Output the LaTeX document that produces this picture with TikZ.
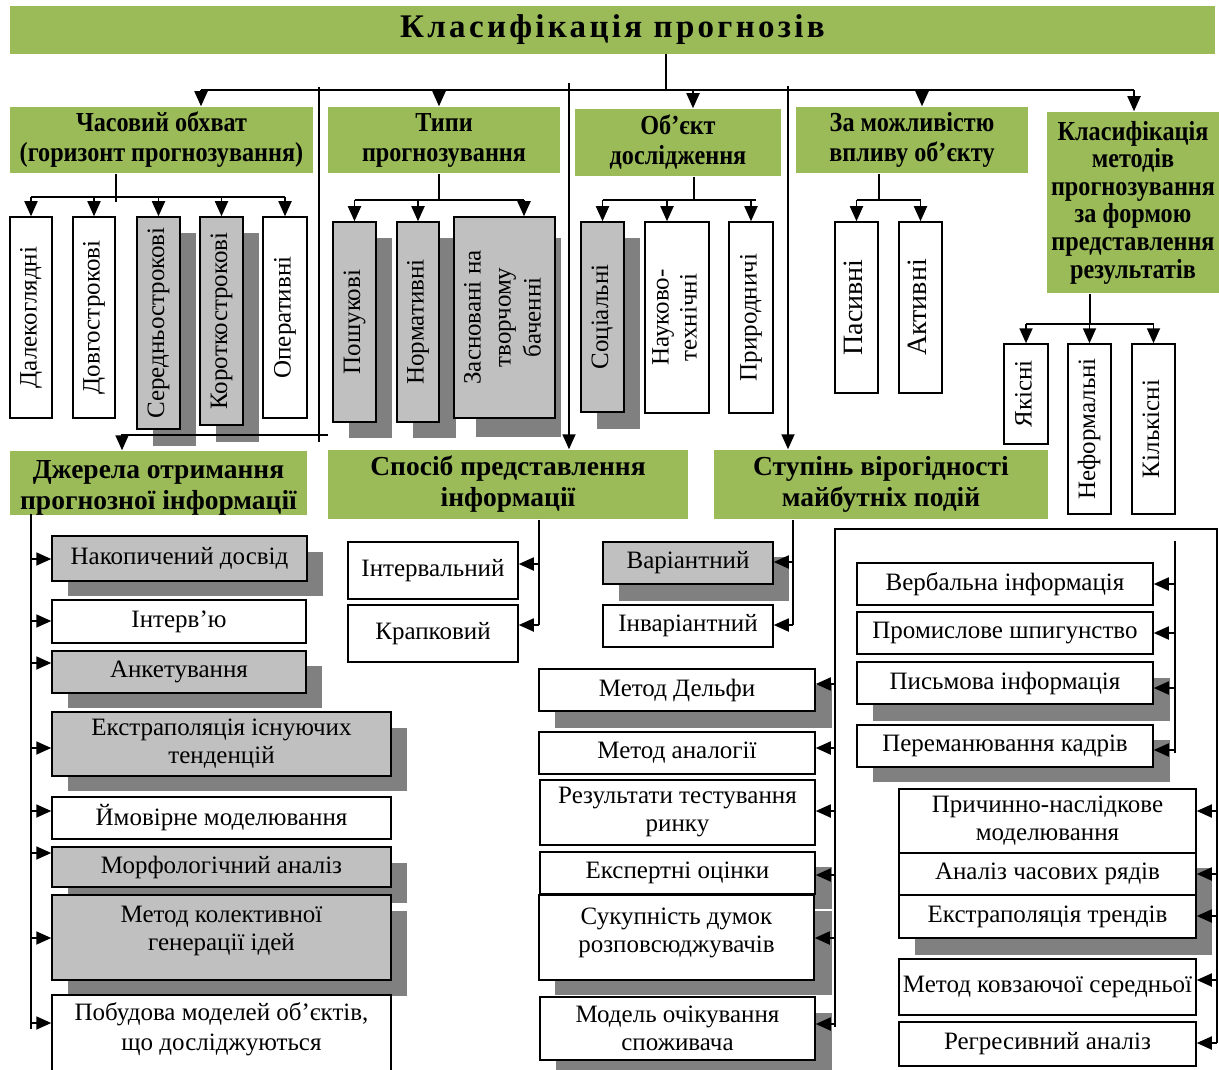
\documentclass[tikz,border=0pt]{standalone}
\usepackage{fontspec}
\setmainfont{Liberation Serif}
\newfontfamily\condb[FakeStretch=0.88]{Liberation Serif}
\newfontfamily\titlef[LetterSpace=10]{Liberation Serif}
\usetikzlibrary{arrows.meta}
\definecolor{grn}{HTML}{9BBB59}
\definecolor{gbox}{HTML}{C0C0C0}
\definecolor{shadowc}{HTML}{808080}
\tikzset{
 bxs/.style={draw, line width=1.5pt, fill=white, align=center, inner sep=0pt, font=\fontsize{25}{28}\selectfont},
 gry/.style={fill=gbox},
 hd/.style={fill=grn, draw=none, font=\condb\bfseries\fontsize{27.5}{30}\selectfont},
 hdl/.style={fill=grn, draw=none, font=\bfseries\fontsize{27.5}{31}\selectfont},
 txt/.style={align=center, inner sep=0pt, font=\fontsize{25}{28}\selectfont},
 ln/.style={line width=1.8pt},
 arr/.style={line width=1.8pt, -{Triangle[length=15pt,width=13pt]}},
}
\newcommand\bx[7][]{\node[bxs,#1,minimum width={(#5-#3)*1pt},minimum height={(#6-#4)*1pt}] (#2) at ({(#3+#5)/2},{(#4+#6)/2}) {#7};}
\newcommand\shd[4]{\fill[shadowc] (#1,#2) rectangle (#3,#4);}
\newcommand\rt[1]{\rotatebox{90}{\begin{tabular}{@{}c@{}}#1\end{tabular}}}
\begin{document}
\begin{tikzpicture}[x=1pt,y=-1pt]
\useasboundingbox (0,0) rectangle (1219,1070);
\clip (0,0) rectangle (1219,1070);
% title
\node[fill=grn, inner sep=0pt, minimum width=1205pt, minimum height=48pt] (title) at (612.5,30) {\titlef\bfseries\fontsize{33}{38}\selectfont Класифікація прогнозів};
% level 2 headings
\bx[hd]{chas}{10}{107}{313}{173}{Часовий обхват\\(горизонт прогнозування)}
\bx[hd]{typy}{328}{107}{560}{173}{Типи\\прогнозування}
\bx[hd]{obj}{575}{109}{781}{176}{Об’єкт\\дослідження}
\bx[hd]{mozh}{796}{107}{1028}{173}{За можливістю\\впливу об’єкту}
\bx[hd,font=\condb\bfseries\fontsize{27.5}{27.6}\selectfont]{klas}{1047}{112}{1219}{293}{Класифікація\\методів\\прогнозування\\за формою\\представлення\\результатів}
% shadows
\shd{153}{233}{196}{446}
\shd{216}{233}{259}{442}
\shd{349}{238}{392}{438}
\shd{413}{238}{456}{438}
\shd{476}{238}{561}{437}
\shd{597}{238}{640}{429}
\shd{68}{552}{323}{596}
\shd{68}{666}{322}{708}
\shd{68}{728}{407}{791}
\shd{68}{863}{407}{903}
\shd{68}{911}{407}{996}
\shd{619}{557}{789}{601}
\shd{555}{685}{832}{728}
\shd{555}{867}{832}{909}
\shd{555}{911}{832}{995}
\shd{556}{1013}{832}{1080}
\shd{873}{678}{1170}{721}
\shd{873}{740}{1170}{782}
\shd{915}{868}{1212}{955}
% vertical boxes
\bx{d1}{10}{217}{52}{418}{\rt{Далекоглядні}}
\bx{d2}{73}{217}{115}{418}{\rt{Довгострокові}}
\bx[gry]{d3}{137}{217}{180}{429}{\rt{Середньострокові}}
\bx[gry]{d4}{200}{217}{243}{425}{\rt{Короткострокові}}
\bx{d5}{263}{217}{307}{418}{\rt{Оперативні}}
\bx[gry]{t1}{333}{222}{376}{422}{\rt{Пошукові}}
\bx[gry]{t2}{397}{222}{439}{422}{\rt{Нормативні}}
\bx[gry,font=\fontsize{25}{30}\selectfont]{t3}{454}{217}{555}{418}{\rt{Засновані на\\творчому\\баченні}}
\bx[gry]{o1}{581}{222}{624}{412}{\rt{Соціальні}}
\bx{o2}{645}{222}{709}{413}{\rt{Науково-\\технічні}}
\bx{o3}{729}{222}{773}{413}{\rt{Природничі}}
\bx[font=\fontsize{28}{30}\selectfont]{m1}{835}{222}{878}{393}{\rt{Пасивні}}
\bx[font=\fontsize{28}{30}\selectfont]{m2}{899}{222}{942}{393}{\rt{Активні}}
\bx{k1}{1004}{344}{1048}{444}{\rt{Якісні}}
\bx{k2}{1068}{344}{1111}{514}{\rt{Неформальні}}
\bx{k3}{1132}{344}{1175}{514}{\rt{Кількісні}}
% level 3 headings
\begin{scope}
\clip (10,451) rectangle (307,514);
\bx[hdl]{dzh}{10}{451}{307}{524}{Джерела отримання\\прогнозної інформації}
\end{scope}
\bx[hdl]{sposib}{328}{450}{688}{519}{Спосіб представлення\\інформації}
\bx[hdl]{stup}{714}{450}{1048}{519}{Ступінь вірогідності\\майбутніх подій}
% left column
\bx[gry]{j1}{52}{536}{307}{581}{Накопичений досвід}
\bx{j2}{52}{600}{306}{643}{Інтерв’ю}
\bx[gry]{j3}{52}{651}{306}{693}{Анкетування}
\bx[gry]{j4}{52}{712}{391}{776}{Екстраполяція існуючих\\тенденцій}
\bx{j5}{52}{797}{391}{839}{Ймовірне моделювання}
\bx[gry]{j6}{52}{847}{391}{887}{Морфологічний аналіз}
\bx[gry]{j7}{52}{895}{391}{980}{}
\node[txt,anchor=north] (j7t) at ([yshift=-12pt]j7.north) {Метод колективної\\генерації ідей};
\bx{j8}{52}{995}{391}{1090}{}
\node[txt,anchor=north] (j8t) at ([yshift=-8pt]j8.north) {Побудова моделей об’єктів,\\[2pt]що досліджуються};
% middle
\bx{s1}{348}{542}{518}{599}{Інтервальний}
\bx{s2}{348}{605}{518}{662}{Крапковий}
\bx[gry]{v1}{603}{542}{773}{584}{Варіантний}
\bx{v2}{603}{605}{773}{647}{Інваріантний}
\bx{c1}{539}{669}{815}{711}{Метод Дельфи}
\bx{c2}{539}{732}{815}{774}{Метод аналогії}
\bx{c3}{540}{780}{815}{845}{Результати тестування\\ринку}
\bx{c4}{540}{852}{815}{894}{Експертні оцінки}
\bx{c5}{539}{895}{814}{980}{}
\node[txt,anchor=north] (c5t) at ([yshift=-13pt]c5.north) {Сукупність думок\\розповсюджувачів};
\bx{c6}{540}{997}{815}{1060}{Модель очікування\\споживача}
% right
\bx{r1}{857}{563}{1153}{605}{Вербальна інформація}
\bx{r2}{857}{612}{1153}{654}{Промислове шпигунство}
\bx{r3}{857}{662}{1153}{704}{Письмова інформація}
\bx{r4}{857}{725}{1153}{767}{Переманювання кадрів}
\bx{q1}{899}{789}{1196}{853}{Причинно-наслідкове\\моделювання}
\bx{q2}{899}{853}{1196}{895}{Аналіз часових рядів}
\bx{q3}{899}{895}{1196}{938}{Екстраполяція трендів}
\bx{q4}{899}{959}{1196}{1015}{Метод ковзаючої середньої}
\bx{q5}{899}{1022}{1196}{1066}{Регресивний аналіз}
% ---- connectors ----
\coordinate (bL) at (201,90); \coordinate (bR) at (1134,90); \coordinate (bM) at (666,90);
\coordinate (b2) at (439,90); \coordinate (b3) at (693,90); \coordinate (b4) at (922,90);
\draw[ln] (bM |- title.south) -- (bM);
\draw[ln] (bL) -- (bR);
\draw[arr] (bL) -- (bL |- chas.north);
\draw[arr] (b2) -- (b2 |- typy.north);
\draw[arr] (b3) -- (b3 |- obj.north);
\draw[arr] (b4) -- (b4 |- mozh.north);
\draw[arr] (bR) -- (bR |- klas.north);
% long verticals
\coordinate (vA) at (319,87); \coordinate (vB) at (319,442);
\draw[ln] (vA) -- (vB);
\coordinate (dA) at (328,435); \coordinate (dB) at (122,435);
\draw[arr] (dA) -- (dB) -- (dB |- dzh.north);
\coordinate (sA) at (569,83);
\draw[arr] (sA) -- (sA |- sposib.north);
\coordinate (uA) at (788,86);
\draw[arr] (uA) -- (uA |- stup.north);
% chasovyi
\coordinate (c0) at (116,202); \coordinate (cb) at (0,197);
\draw[ln] (c0 |- chas.south) -- (c0);
\draw[ln] (d1.north |- cb) -- (d5.north |- cb);
\foreach \n in {d1,d2,d3,d4,d5} \draw[arr] (\n.north |- cb) -- (\n.north);
% typy
\coordinate (p0) at (439,200); \coordinate (p3) at (524,200);
\draw[ln] (p0 |- typy.south) -- (p0);
\draw[ln] (t1.north |- p0) -- (p3);
\draw[arr] (t1.north |- p0) -- (t1.north);
\draw[arr] (t2.north |- p0) -- (t2.north);
\draw[arr] (p3) -- (p3 |- t3.north);
% object
\coordinate (o0) at (694,200); \coordinate (oq) at (667,200); \coordinate (oe) at (756,200);
\draw[ln] (o0 |- obj.south) -- (o0);
\draw[ln] (o1.north |- o0) -- (oe);
\draw[arr] (o1.north |- o0) -- (o1.north);
\draw[arr] (oq) -- (oq |- o2.north);
\draw[arr] (o3.north |- o0) -- (o3.north);
% mozhlyvist
\coordinate (m0) at (879,200);
\draw[ln] (m0 |- mozh.south) -- (m0);
\draw[ln] (m1.north |- m0) -- (m2.north |- m0);
\draw[arr] (m1.north |- m0) -- (m1.north);
\draw[arr] (m2.north |- m0) -- (m2.north);
% klas
\coordinate (k0) at (1090,324);
\draw[ln] (k0 |- klas.south) -- (k0);
\draw[ln] (k1.north |- k0) -- (k3.north |- k0);
\foreach \n in {k1,k2,k3} \draw[arr] (\n.north |- k0) -- (\n.north);
% left column
\coordinate (Lt) at (31,514); \coordinate (Lb) at (31,1029);
\draw[ln] (Lt) -- (Lb);
\foreach \n/\y in {j1/559,j2/621,j3/663,j4/748,j5/811,j6/853,j7/938,j8/1023}
  \draw[arr] (31,\y) -- (\n.west |- 31,\y);
% sposib
\coordinate (Sb) at (539,625);
\draw[ln] (sposib.south -| Sb) -- (Sb);
\draw[arr] (539,564) -- (s1.east |- 539,564);
\draw[arr] (Sb) -- (s2.east |- Sb);
% stupin
\coordinate (Ub) at (793,625);
\draw[ln] (stup.south -| Ub) -- (Ub);
\draw[arr] (793,562) -- (v1.east |- 793,562);
\draw[arr] (Ub) -- (v2.east |- Ub);
% right block
\coordinate (RL) at (835,1027); \coordinate (RT1) at (835,529); \coordinate (RT2) at (1217,529); \coordinate (RR) at (1217,1043);
\draw[ln] (RL) -- (RT1) -- (RT2) -- (RR);
\foreach \n/\y in {c1/684,c2/748,c3/811,c4/875,c5/938,c6/1024}
  \draw[arr] (835,\y) -- (\n.east |- 835,\y);
\coordinate (IA) at (1175,541); \coordinate (IB) at (1175,753);
\draw[ln] (IA) -- (IB);
\foreach \n/\y in {r1/584,r2/633,r3/688,r4/750}
  \draw[arr] (1175,\y) -- (\n.east |- 1175,\y);
\foreach \n/\y in {q1/811,q2/874,q3/916,q4/980,q5/1043}
  \draw[arr] (1217,\y) -- (\n.east |- 1217,\y);
\end{tikzpicture}
\end{document}
